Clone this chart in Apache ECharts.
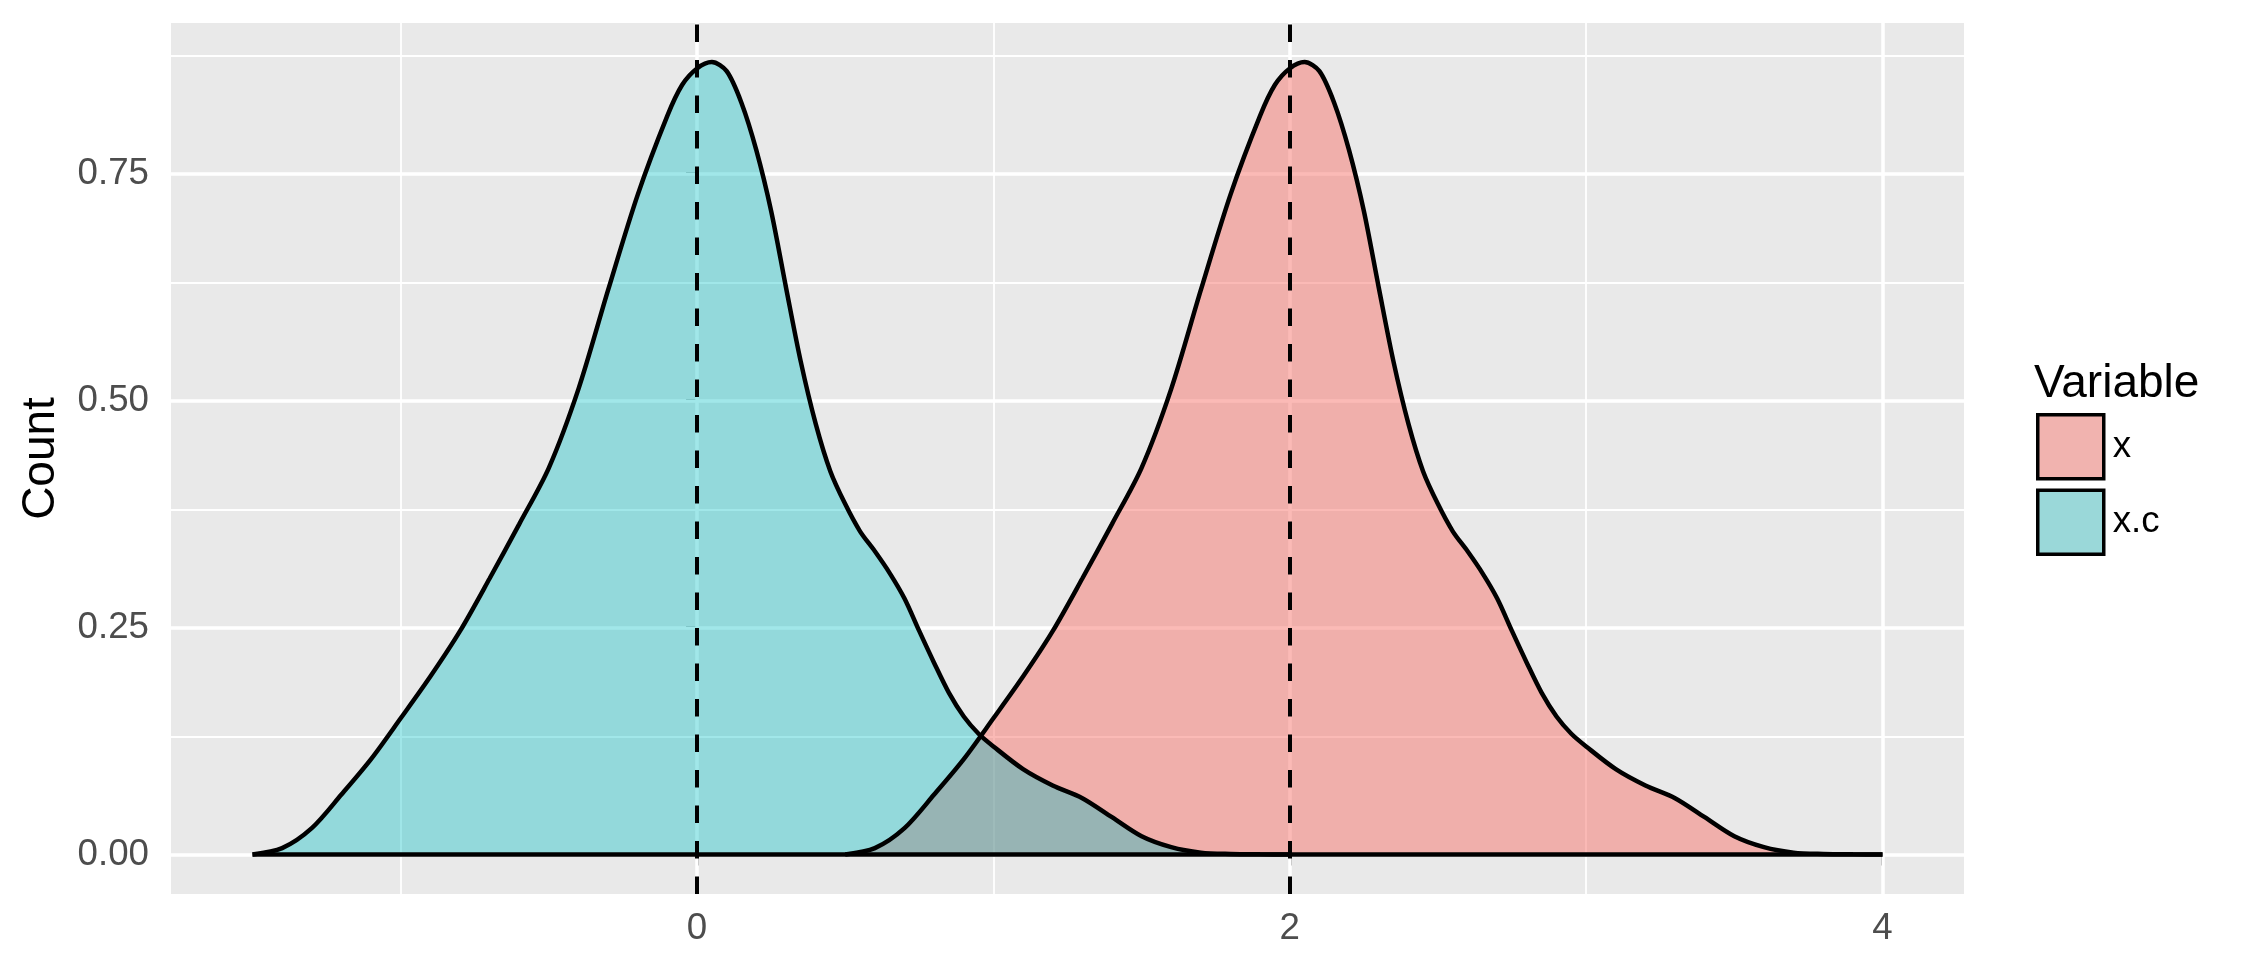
<!DOCTYPE html>
<html><head><meta charset="utf-8">
<script src="https://cdn.jsdelivr.net/npm/echarts@6/dist/echarts.min.js"></script>
<style>html,body{margin:0;padding:0;background:#fff}#c{width:2250px;height:967px}</style>
</head><body><div id="c"></div>
<script>
// ---- data ----
const seriesNames = ['x', 'x.c'];
// x.c (centred variable) density
const xcX = [-1.5,-1.4,-1.3,-1.2,-1.1,-1.0,-0.9,-0.8,-0.7,-0.6,-0.5,-0.4,-0.3,-0.2,-0.1,-0.05,0,0.05,0.1,0.15,0.2,0.25,0.3,0.35,0.4,0.45,0.5,0.55,0.6,0.65,0.7,0.75,0.8,0.85,0.9,0.95,1.0,1.1,1.2,1.3,1.4,1.5,1.6,1.7,1.8,1.9,2.0];
const xcY = [0.000,0.007,0.029,0.066,0.105,0.150,0.196,0.246,0.304,0.364,0.426,0.513,0.622,0.727,0.814,0.848,0.866,0.873,0.863,0.828,0.776,0.709,0.625,0.543,0.475,0.422,0.386,0.356,0.334,0.310,0.282,0.246,0.211,0.178,0.152,0.133,0.119,0.094,0.076,0.062,0.041,0.020,0.008,0.002,0.0005,0.0001,0.000];
// x density
const xX = [0.5,0.6,0.7,0.8,0.9,1.0,1.1,1.2,1.3,1.4,1.5,1.6,1.7,1.8,1.9,1.95,2.0,2.05,2.1,2.15,2.2,2.25,2.3,2.35,2.4,2.45,2.5,2.55,2.6,2.65,2.7,2.75,2.8,2.85,2.9,2.95,3.0,3.1,3.2,3.3,3.4,3.5,3.6,3.7,3.8,3.9,4.0];
const xY = [0.000,0.007,0.029,0.066,0.105,0.150,0.196,0.246,0.304,0.364,0.426,0.513,0.622,0.727,0.814,0.848,0.866,0.873,0.863,0.828,0.776,0.709,0.625,0.543,0.475,0.422,0.386,0.356,0.334,0.310,0.282,0.246,0.211,0.178,0.152,0.133,0.119,0.094,0.076,0.062,0.041,0.020,0.008,0.002,0.0005,0.0001,0.000];
const means = [0, 2];
const baseRange = [-1.5, 4.0];
const xTicks = [0, 2, 4];
const xMinor = [-1, 1, 3];
const yTicks = [0, 0.25, 0.5, 0.75];
const yMinor = [0.125, 0.375, 0.625, 0.875];

// ---- chart ----
const FONT = "'Liberation Sans', Arial, Helvetica, sans-serif";
const pair = (xs, ys) => xs.map((v, i) => [v, ys[i]]);
const chart = echarts.init(document.getElementById('c'), null, {renderer: 'canvas'});

const gridLines = [].concat(
  xMinor.map(v => ({xAxis: v, lineStyle: {color: '#ffffff', width: 1.8, type: 'solid'}})),
  yMinor.map(v => ({yAxis: v, lineStyle: {color: '#ffffff', width: 1.8, type: 'solid'}})),
  xTicks.map(v => ({xAxis: v, lineStyle: {color: '#ffffff', width: 3.5, type: 'solid'}})),
  yTicks.map(v => ({yAxis: v, lineStyle: {color: '#ffffff', width: 3.5, type: 'solid'}}))
);

const option = {
  animation: false,
  backgroundColor: '#ffffff',
  textStyle: {fontFamily: FONT},
  grid: {left: 171, top: 23, width: 1793, height: 871, show: true, backgroundColor: '#E9E9E9', borderWidth: 0, containLabel: false},
  title: {text: 'Variable', left: 2034, top: 361, padding: 0,
    textStyle: {fontFamily: FONT, fontSize: 46, fontWeight: 'normal', color: '#000000'}},
  legend: {
    orient: 'vertical', left: 2031, top: 408, itemWidth: 66, itemHeight: 64, itemGap: 8,
    icon: 'rect', selectedMode: false,
    textStyle: {fontFamily: FONT, fontSize: 36.7, color: '#000000', padding: [0, 0, 0, 4]},
    data: [
      {name: seriesNames[0], itemStyle: {color: '#F1B3AF', borderColor: '#000000', borderWidth: 3.5}},
      {name: seriesNames[1], itemStyle: {color: '#9AD8D9', borderColor: '#000000', borderWidth: 3.5}}
    ]
  },
  xAxis: {
    type: 'value', min: -1.775, max: 4.275,
    axisLine: {show: false},
    splitLine: {show: false},
    axisTick: {show: true, customValues: xTicks, length: 11, lineStyle: {color: '#333333', width: 3}},
    axisLabel: {customValues: xTicks, formatter: v => String(v), fontFamily: FONT, fontSize: 36.7, color: '#4D4D4D', margin: 16}
  },
  yAxis: {
    type: 'value', min: -0.0436, max: 0.9161,
    name: 'Count', nameLocation: 'middle', nameGap: 107,
    nameTextStyle: {fontFamily: FONT, fontSize: 46, color: '#000000'},
    axisLine: {show: false},
    splitLine: {show: false},
    axisTick: {show: true, customValues: yTicks, length: 11, lineStyle: {color: '#333333', width: 3}},
    axisLabel: {customValues: yTicks, formatter: v => v.toFixed(2), fontFamily: FONT, fontSize: 36.7, color: '#4D4D4D', margin: 22}
  },
  series: [
    {type: 'line', name: '_grid', data: [], z: 1, silent: true,
      markLine: {silent: true, z: 1, symbol: ['none', 'none'], label: {show: false}, emphasis: {disabled: true}, data: gridLines}},
    {type: 'line', name: seriesNames[0], z: 2, data: pair(xX, xY), showSymbol: false, smooth: 0.3,
      lineStyle: {color: '#000000', width: 4.5}, itemStyle: {color: '#F1B3AF'},
      areaStyle: {color: 'rgba(248,118,109,0.5)', opacity: 1}, emphasis: {disabled: true}},
    {type: 'line', name: seriesNames[1], z: 2, data: pair(xcX, xcY), showSymbol: false, smooth: 0.3,
      lineStyle: {color: '#000000', width: 4.5}, itemStyle: {color: '#9AD8D9'},
      areaStyle: {color: 'rgba(0,191,196,0.37)', opacity: 1}, emphasis: {disabled: true}},
    {type: 'line', name: '_base', z: 3, data: baseRange.map(v => [v, 0]), showSymbol: false,
      lineStyle: {color: '#000000', width: 4.5}, emphasis: {disabled: true}, silent: true},
    {type: 'line', name: '_means', z: 4, data: [], silent: true,
      markLine: {silent: true, z: 4, symbol: ['none', 'none'], label: {show: false}, emphasis: {disabled: true},
        lineStyle: {color: '#000000', width: 4, type: [17.5, 18]},
        data: means.map(v => ({xAxis: v}))}}
  ]
};
chart.setOption(option);
</script>
</body></html>
